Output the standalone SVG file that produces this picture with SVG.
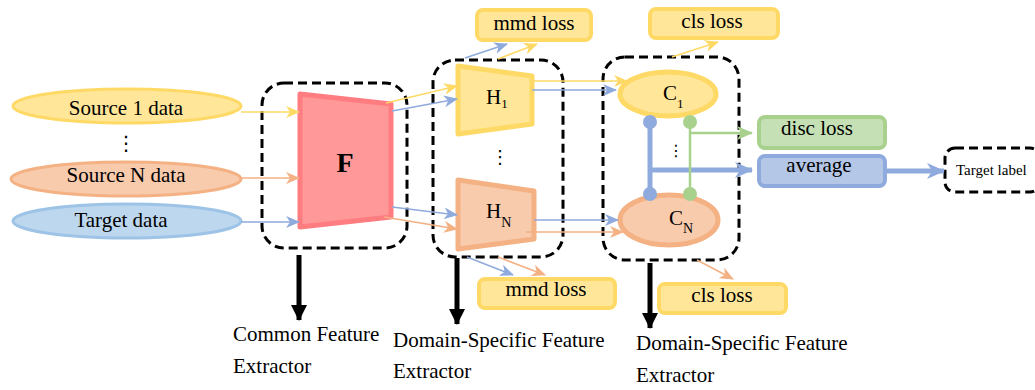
<svg xmlns="http://www.w3.org/2000/svg" width="1035" height="390" viewBox="0 0 1035 390">
<style>
text{font-family:"Liberation Serif","Times New Roman",serif;fill:#000}
.t{font-size:21px;text-anchor:middle}
.lbl{font-size:21px}
.dash{fill:none;stroke:#000;stroke-width:3;stroke-dasharray:9 5}
.y{fill:#FFE699;stroke:#FFD966}
.o{fill:#F8CBAD;stroke:#F4B183}
.b{fill:#B4C7E7;stroke:#8FAADC}
.g{fill:#C5E0B4;stroke:#A9D18E}
.ly{stroke:#FFD966;stroke-width:1.5;fill:none}
.lo{stroke:#F4B183;stroke-width:1.5;fill:none}
.lb{stroke:#8FAADC;stroke-width:1.5;fill:none}
</style>
<defs>
<marker id="aY" markerUnits="userSpaceOnUse" markerWidth="14" markerHeight="12" refX="13" refY="6" orient="auto"><path d="M0,0 L14,6 L0,12 L4,6 z" fill="#FFD966"/></marker>
<marker id="aO" markerUnits="userSpaceOnUse" markerWidth="14" markerHeight="12" refX="13" refY="6" orient="auto"><path d="M0,0 L14,6 L0,12 L4,6 z" fill="#F4B183"/></marker>
<marker id="aB" markerUnits="userSpaceOnUse" markerWidth="14" markerHeight="12" refX="13" refY="6" orient="auto"><path d="M0,0 L14,6 L0,12 L4,6 z" fill="#8FAADC"/></marker>
<marker id="aG" markerUnits="userSpaceOnUse" markerWidth="16" markerHeight="14" refX="15" refY="7" orient="auto"><path d="M0,0 L16,7 L0,14 L4,7 z" fill="#A9D18E"/></marker>
<marker id="aBB" markerUnits="userSpaceOnUse" markerWidth="18" markerHeight="16" refX="17" refY="8" orient="auto"><path d="M0,0 L18,8 L0,16 L5,8 z" fill="#8FAADC"/></marker>
<marker id="aK" markerUnits="userSpaceOnUse" markerWidth="16" markerHeight="16" refX="15" refY="8" orient="auto"><path d="M0,0 L16,8 L0,16 z" fill="#000"/></marker>
</defs>

<g id="group-common"><rect class="dash" x="262" y="83" width="145" height="165" rx="22"/></g>
<g id="group-domain"><rect class="dash" x="433" y="60" width="130" height="197" rx="22"/></g>
<g id="group-cls"><rect class="dash" x="603" y="57" width="136" height="203" rx="22"/></g>

<g id="source1"><ellipse class="y" cx="127" cy="106" rx="114" ry="17" stroke-width="3"/><text class="t" x="126" y="115">Source 1 data</text></g>
<g id="dots1"><text x="126" y="150" font-size="20" text-anchor="middle" style="font-family:'DejaVu Sans',sans-serif">⋮</text></g>
<g id="sourceN"><ellipse class="o" cx="126" cy="179" rx="115" ry="17" stroke-width="3"/><text class="t" x="126" y="182">Source N data</text></g>
<g id="target"><ellipse fill="#BDD7EE" stroke="#9DC3E6" stroke-width="3" cx="127" cy="221" rx="114" ry="17"/><text class="t" x="121" y="227">Target data</text></g>

<g id="F"><polygon points="300,94 391,104 391,217 300,227" fill="#FF9999" stroke="#FF7C80" stroke-width="5" stroke-linejoin="round"/><text x="345" y="172" font-size="28" font-weight="bold" text-anchor="middle">F</text></g>

<g id="H1"><polygon points="458,66 532,76 532,124 458,134" class="y" stroke-width="5" stroke-linejoin="round"/><text x="486" y="104" font-size="21">H<tspan font-size="13" dy="4">1</tspan></text></g>
<g id="dots2"><text x="500" y="163" font-size="18" text-anchor="middle" style="font-family:'DejaVu Sans',sans-serif">⋮</text></g>
<g id="HN"><polygon points="458,180 534,191 534,239 458,249" class="o" stroke-width="5" stroke-linejoin="round"/><text x="486" y="218" font-size="21">H<tspan font-size="14" dy="9">N</tspan></text></g>

<g id="C1"><ellipse class="y" cx="668" cy="94" rx="48" ry="22" stroke-width="5"/><text x="663" y="100" font-size="21">C<tspan font-size="13" dy="8">1</tspan></text></g>
<g id="dots3"><text x="676" y="156" font-size="16" text-anchor="middle" style="font-family:'DejaVu Sans',sans-serif">⋮</text></g>
<g id="CN"><ellipse class="o" cx="669" cy="220" rx="49" ry="25" stroke-width="5"/><text x="669" y="225" font-size="21">C<tspan font-size="14" dy="8">N</tspan></text></g>

<g id="mmd-top"><rect class="y" x="477" y="10" width="114" height="30" rx="6" stroke-width="4"/><text class="t" x="534" y="30">mmd loss</text></g>
<g id="cls-top"><rect class="y" x="650" y="9" width="128" height="29" rx="6" stroke-width="4"/><text class="t" x="712" y="28">cls loss</text></g>
<g id="mmd-bottom"><rect class="y" x="479" y="279" width="136" height="29" rx="6" stroke-width="4"/><text class="t" x="546" y="296">mmd loss</text></g>
<g id="cls-bottom"><rect class="y" x="659" y="284" width="127" height="29" rx="6" stroke-width="4"/><text class="t" x="722" y="302">cls loss</text></g>
<g id="disc"><rect class="g" x="759" y="117" width="126" height="31" rx="6" stroke-width="4"/><text class="t" x="817" y="135">disc loss</text></g>
<g id="average"><rect class="b" x="759" y="156" width="126" height="30" rx="6" stroke-width="4"/><text class="t" x="819" y="172">average</text></g>
<g id="target-label"><rect class="dash" x="945" y="148" width="95" height="44" rx="10"/><text x="956" y="175" font-size="15">Target label</text></g>

<g id="label-common"><text class="lbl" x="233" y="341">Common Feature</text><text class="lbl" x="233" y="373">Extractor</text></g>
<g id="label-domain"><text class="lbl" x="393" y="347">Domain-Specific Feature</text><text class="lbl" x="393" y="378">Extractor</text></g>
<g id="label-cls"><text class="lbl" x="636" y="350">Domain-Specific Feature</text><text class="lbl" x="636" y="382">Extractor</text></g>

<g id="connectors">
<line class="ly" x1="241" y1="112" x2="299" y2="112" marker-end="url(#aY)"/>
<line class="lo" x1="241" y1="178" x2="299" y2="178" marker-end="url(#aO)"/>
<line class="lb" x1="241" y1="222" x2="299" y2="222" marker-end="url(#aB)"/>
<line class="ly" x1="386" y1="103" x2="457" y2="86" marker-end="url(#aY)"/>
<line class="lb" x1="392" y1="111" x2="457" y2="99" marker-end="url(#aB)"/>
<line class="lb" x1="392" y1="207" x2="457" y2="215" marker-end="url(#aB)"/>
<line class="lo" x1="384" y1="217" x2="457" y2="229" marker-end="url(#aO)"/>
<line class="ly" x1="532" y1="81" x2="627" y2="81" marker-end="url(#aY)"/>
<line class="lb" x1="532" y1="90" x2="616" y2="90" marker-end="url(#aB)"/>
<line class="lb" x1="534" y1="220" x2="618" y2="220" marker-end="url(#aB)"/>
<line class="lo" x1="526" y1="232" x2="623" y2="232" marker-end="url(#aO)"/>
<line class="lb" x1="465" y1="58" x2="507" y2="44" marker-end="url(#aB)"/>
<line class="ly" x1="498" y1="59" x2="537" y2="44" marker-end="url(#aY)"/>
<line class="lb" x1="467" y1="257" x2="513" y2="275" marker-end="url(#aB)"/>
<line class="lo" x1="498" y1="257" x2="545" y2="275" marker-end="url(#aO)"/>
<line class="ly" x1="672" y1="57" x2="718" y2="42" marker-end="url(#aY)"/>
<line class="lo" x1="697" y1="260" x2="733" y2="279" marker-end="url(#aO)"/>
<line x1="650" y1="122" x2="650" y2="194" stroke="#8FAADC" stroke-width="5"/>
<line x1="650" y1="170" x2="752" y2="170" stroke="#8FAADC" stroke-width="5" marker-end="url(#aBB)"/>
<circle cx="650" cy="122" r="7" fill="#8FAADC"/>
<circle cx="650" cy="194" r="7" fill="#8FAADC"/>
<line x1="690" y1="122" x2="690" y2="194" stroke="#A9D18E" stroke-width="2.5"/>
<line x1="690" y1="133" x2="752" y2="133" stroke="#A9D18E" stroke-width="2.5" marker-end="url(#aG)"/>
<circle cx="690" cy="122" r="7" fill="#A9D18E"/>
<circle cx="690" cy="194" r="7" fill="#A9D18E"/>
<line x1="887" y1="171" x2="944" y2="171" stroke="#8FAADC" stroke-width="5" marker-end="url(#aBB)"/>
<line x1="299" y1="255" x2="299" y2="320" stroke="#000" stroke-width="5" marker-end="url(#aK)"/>
<line x1="457" y1="258" x2="457" y2="324" stroke="#000" stroke-width="5" marker-end="url(#aK)"/>
<line x1="650" y1="263" x2="650" y2="328" stroke="#000" stroke-width="5" marker-end="url(#aK)"/>
</g>
</svg>
